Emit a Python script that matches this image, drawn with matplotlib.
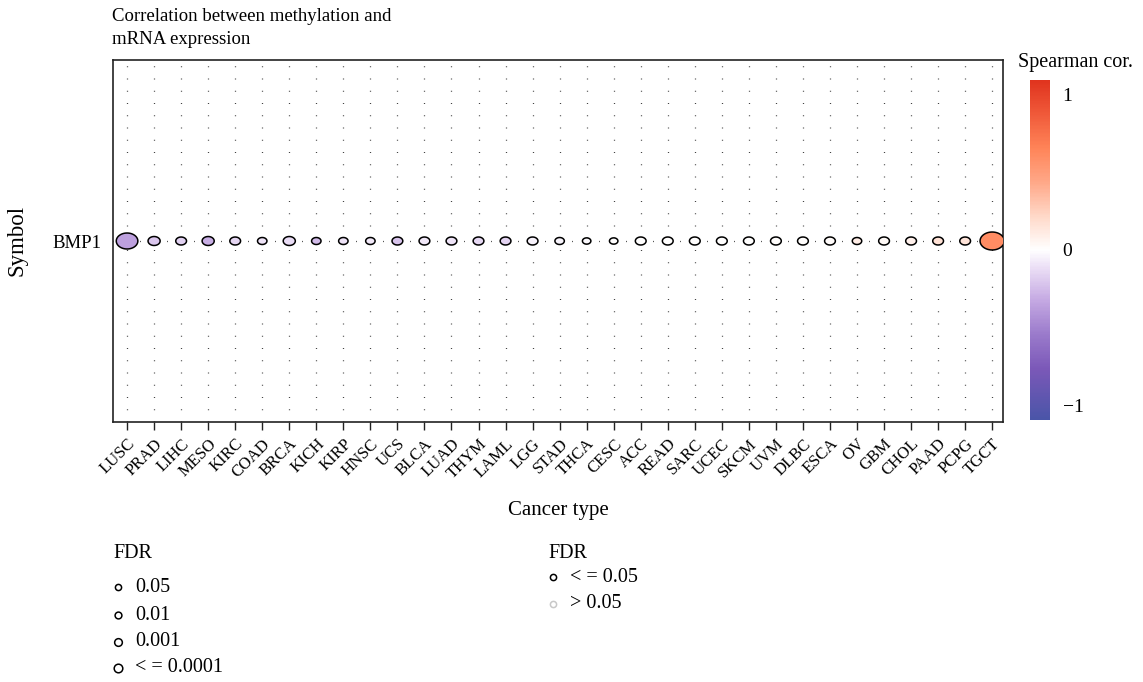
import numpy as np
import matplotlib
matplotlib.use("Agg")
import matplotlib.pyplot as plt
from matplotlib.colors import LinearSegmentedColormap, Normalize
from matplotlib.path import Path
from matplotlib.lines import Line2D
import matplotlib.cm as cm

plt.rcParams['font.family'] = ['Liberation Serif', 'DejaVu Serif']

cancers = ["LUSC", "PRAD", "LIHC", "MESO", "KIRC", "COAD", "BRCA", "KICH", "KIRP", "HNSC",
           "UCS", "BLCA", "LUAD", "THYM", "LAML", "LGG", "STAD", "THCA", "CESC", "ACC",
           "READ", "SARC", "UCEC", "SKCM", "UVM", "DLBC", "ESCA", "OV", "GBM", "CHOL",
           "PAAD", "PCPG", "TGCT"]
spearman = [-0.36, -0.21, -0.17, -0.30, -0.15, -0.10, -0.12, -0.25, -0.10, -0.08,
            -0.22, -0.08, -0.10, -0.14, -0.16, -0.05, -0.04, -0.02, 0.00, 0.00,
            0.00, 0.00, 0.00, 0.00, 0.01, 0.01, 0.02, 0.10, 0.03, 0.08,
            0.17, 0.15, 0.60]
neg_log10_fdr = [12.2, 4.4, 3.3, 4.4, 3.3, 2.2, 4.4, 2.2, 2.2, 2.2,
                 3.3, 3.3, 3.3, 3.3, 3.3, 3.3, 2.2, 1.4, 1.4, 3.3,
                 3.3, 3.3, 3.3, 3.3, 3.3, 3.3, 3.3, 2.2, 3.3, 3.3,
                 3.3, 3.3, 14.4]
symbols = ["BMP1"]
size_legend_labels = ["0.05", "0.01", "0.001", "< = 0.0001"]
size_legend_values = [1.3, 2.0, 3.0, 4.0]
sig_legend_labels = ["< = 0.05", "> 0.05"]

W, H, DPI = 1143, 682, 100
fig = plt.figure(figsize=(W / DPI, H / DPI), dpi=DPI)

def fx(px):
    return px / W

def fy(py):
    return 1 - py / H

ax = fig.add_axes([fx(113), fy(422), fx(1003) - fx(113), fy(60) - fy(422)])

cmap = LinearSegmentedColormap.from_list("spear", [
    (0.00, "#4A55A8"), (0.15, "#7B58B8"), (0.25, "#9A7ACB"), (0.35, "#C4A8E2"),
    (0.45, "#ECE0F6"), (0.50, "#FFFFFF"), (0.60, "#FFD8C8"), (0.70, "#FFA888"),
    (0.80, "#FF8458"), (0.90, "#F05A3A"), (1.00, "#E0341E")])
norm = Normalize(-1.09, 1.09)

# ellipse marker
t = np.linspace(0, 2 * np.pi, 80)
aspect = 1.35
verts = np.column_stack([aspect * np.cos(t), np.sin(t)])
ell = Path(verts, closed=True)

x = np.arange(len(cancers))
y = np.zeros(len(cancers))
height_px = 5 + 0.9 * np.array(neg_log10_fdr)
width_pt = aspect * height_px * 72 / DPI
sizes = width_pt ** 2

# dotted grid
ylim = (-1, 1)
for xi in x:
    ax.plot([xi, xi], ylim, color="#444444", lw=0.9, linestyle=(0, (0.8, 9.0)), zorder=1)
ax.plot([-0.52, 32.4], [0, 0], color="#555555", lw=0.9, linestyle=(0.4, (0.8, 10.0)), zorder=1)

ax.scatter(x, y, s=sizes, c=spearman, cmap=cmap, norm=norm, marker=ell,
           edgecolors="black", linewidths=1.1, zorder=3)

ax.set_xlim(-0.52, 32.4)
ax.set_ylim(*ylim)
ax.set_xticks(x)
ax.set_xticklabels(cancers, rotation=45, ha="right", va="top", rotation_mode="anchor", fontsize=12)
ax.set_yticks([0])
ax.set_yticklabels(symbols, fontsize=13.5)
ax.tick_params(axis="x", length=6, width=1.0, color="#222222", pad=4)
ax.tick_params(axis="y", length=0, pad=8)
for sp in ax.spines.values():
    sp.set_linewidth(1.2)
    sp.set_color("#222222")
ax.set_xlabel("Cancer type", fontsize=15, labelpad=14)
fig.text(fx(17), fy(240), "Symbol", fontsize=16.5, rotation=90, ha="center", va="center")

fig.text(fx(112), fy(8), "Correlation between methylation and\nmRNA expression",
         fontsize=13.5, ha="left", va="top", linespacing=1.45)

# colorbar
cax = fig.add_axes([fx(1030), fy(420), fx(1050) - fx(1030), fy(80) - fy(420)])
sm = cm.ScalarMappable(norm=norm, cmap=cmap)
cb = fig.colorbar(sm, cax=cax)
cb.outline.set_visible(False)
cb.set_ticks([-1, 0, 1])
cb.set_ticklabels(["\u22121", "0", "1"])
cb.ax.tick_params(length=0, labelsize=14, pad=9)
fig.text(fx(1076), fy(62), "Spearman cor.", fontsize=14.5, ha="center", va="center")

# FDR size legend
fig.text(fx(113), fy(553), "FDR", fontsize=14.5, ha="left", va="center")
ys = [587, 615, 642, 668]
for lab, v, yy in zip(size_legend_labels, size_legend_values, ys):
    d = (5 + 0.9 * v) * 72 / DPI
    fig.add_artist(Line2D([fx(118)], [fy(yy)], marker="o", markersize=d, markerfacecolor="white",
                          markeredgecolor="black", markeredgewidth=1.1, linestyle="none",
                          transform=fig.transFigure))
    fig.text(fx(135), fy(yy), lab, fontsize=14.5, ha="left", va="center")

# FDR significance legend
fig.text(fx(548), fy(553), "FDR", fontsize=14.5, ha="left", va="center")
for lab, col, yy in zip(sig_legend_labels, ["black", "#C8C8C8"], [577, 604]):
    fig.add_artist(Line2D([fx(553)], [fy(yy)], marker="o", markersize=6.2 * 72 / DPI,
                          markerfacecolor="white", markeredgecolor=col, markeredgewidth=1.1,
                          linestyle="none", transform=fig.transFigure))
    fig.text(fx(570), fy(yy), lab, fontsize=14.5, ha="left", va="center")

fig.savefig("out.png", dpi=DPI)
